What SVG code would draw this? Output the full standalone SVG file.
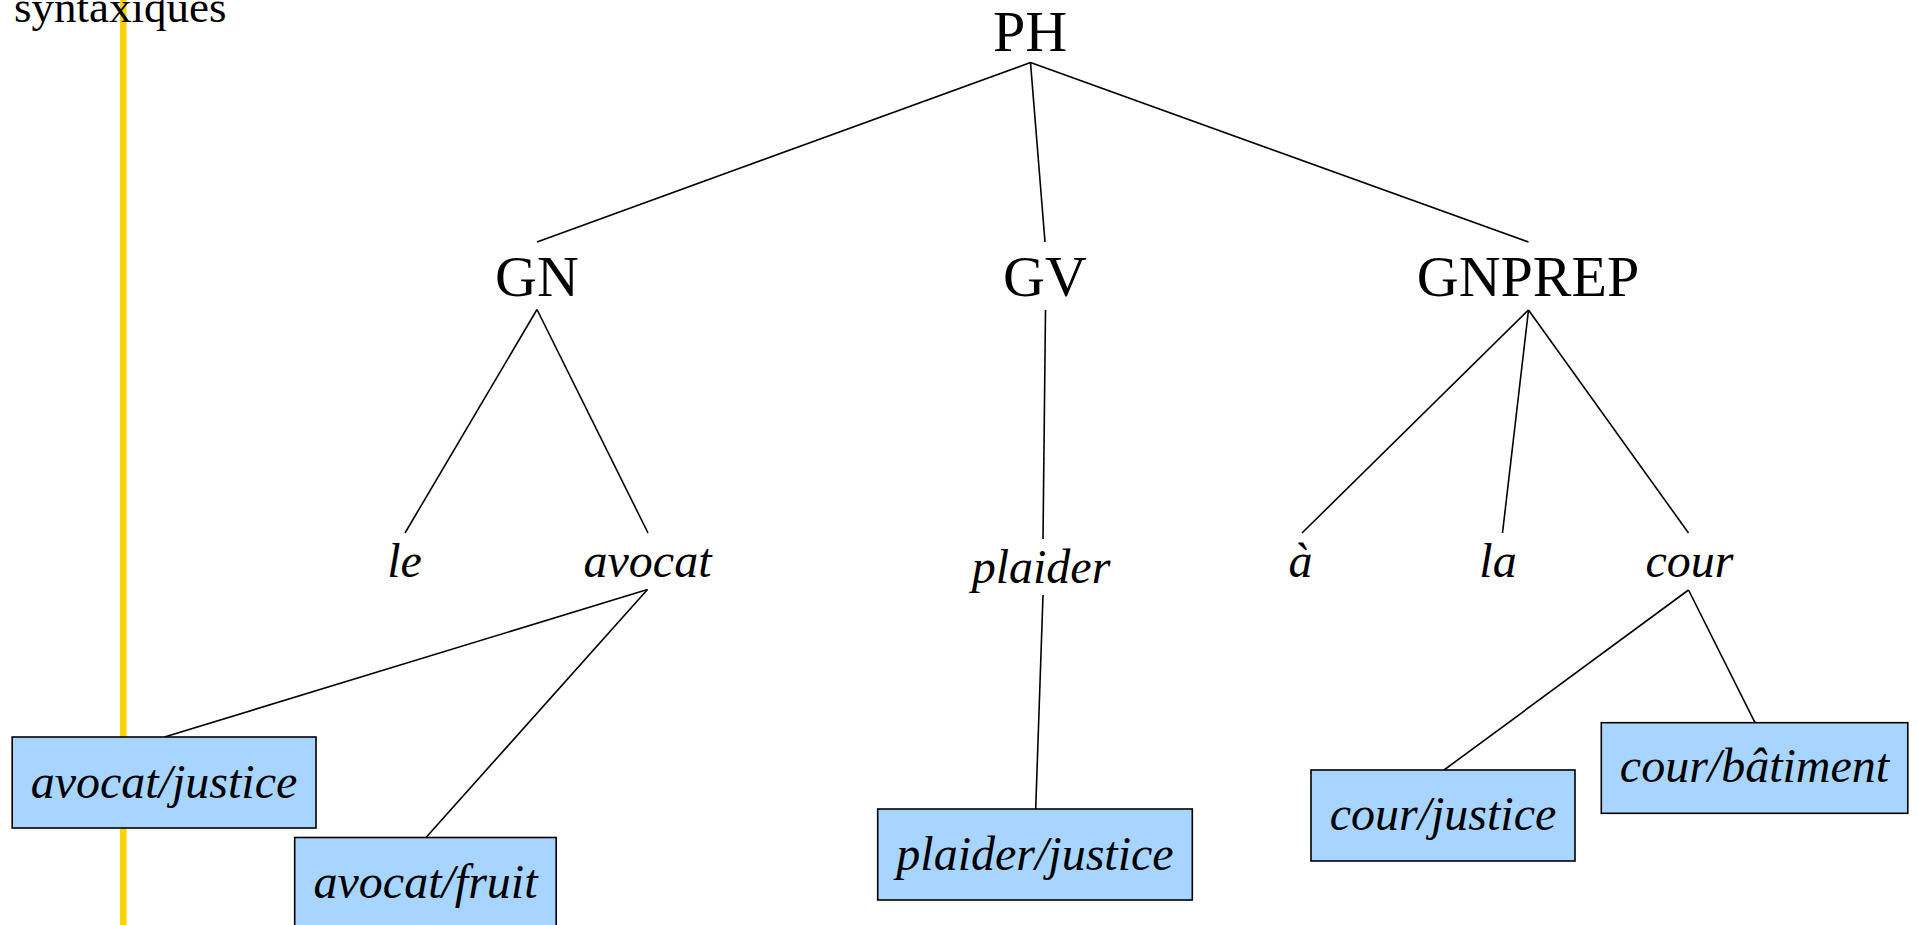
<svg xmlns="http://www.w3.org/2000/svg" width="1917" height="925" viewBox="0 0 1917 925">
  <style>
    .cat { font-family: "Liberation Serif", "Times New Roman", serif; font-size: 58px; fill: #000; text-anchor: middle; }
    .word { font-family: "Liberation Serif", "Times New Roman", serif; font-size: 48px; font-style: italic; fill: #000; text-anchor: middle; }
    .sense rect { fill: #a8d5ff; stroke: #000; stroke-width: 1.6; }
    .edges line { stroke: #000; stroke-width: 1.6; }
  </style>
  <rect width="1917" height="925" fill="#fff"/>

  <!-- vertical marker line -->
  <line x1="123.3" y1="0" x2="123.3" y2="925" stroke="#ffd200" stroke-width="6.5"/>
  <text x="14" y="22" font-family="Liberation Serif, serif" font-size="45" fill="#000">syntaxiques</text>

  <!-- connectors -->
  <g id="edges" class="edges">
    <line x1="1030.5" y1="62.5" x2="537" y2="242"/>
    <line x1="1030.5" y1="62.5" x2="1045" y2="242"/>
    <line x1="1030.5" y1="62.5" x2="1528.5" y2="242"/>
    <line x1="537" y1="309.5" x2="405" y2="533"/>
    <line x1="537" y1="309.5" x2="648" y2="533"/>
    <line x1="1045.5" y1="310" x2="1043" y2="539"/>
    <line x1="1528.5" y1="310" x2="1302" y2="533"/>
    <line x1="1528.5" y1="310" x2="1502.5" y2="533"/>
    <line x1="1528.5" y1="310" x2="1688.5" y2="533"/>
    <line x1="647.5" y1="589.5" x2="164.5" y2="737"/>
    <line x1="647.5" y1="589.5" x2="426" y2="837.5"/>
    <line x1="1043" y1="595" x2="1035.7" y2="809"/>
    <line x1="1688.5" y1="590" x2="1444" y2="770"/>
    <line x1="1688.5" y1="590" x2="1755" y2="722.7"/>
  </g>

  <!-- syntactic categories -->
  <g id="PH"><text class="cat" x="1030" y="51">PH</text></g>
  <g id="GN"><text class="cat" x="537" y="296">GN</text></g>
  <g id="GV"><text class="cat" x="1045" y="296">GV</text></g>
  <g id="GNPREP"><text class="cat" x="1528" y="296">GNPREP</text></g>

  <!-- words -->
  <g id="le"><text class="word" x="404.5" y="577">le</text></g>
  <g id="avocat"><text class="word" x="647.5" y="577">avocat</text></g>
  <g id="plaider"><text class="word" x="1041" y="583">plaider</text></g>
  <g id="a"><text class="word" x="1300.5" y="577">à</text></g>
  <g id="la"><text class="word" x="1498" y="577">la</text></g>
  <g id="cour"><text class="word" x="1689.5" y="577">cour</text></g>

  <!-- senses -->
  <g id="avocat-justice" class="sense">
    <rect x="12.2" y="737" width="303.8" height="91"/>
    <text class="word" x="164" y="798">avocat/justice</text>
  </g>
  <g id="avocat-fruit" class="sense">
    <rect x="294.7" y="837.5" width="261.5" height="100"/>
    <text class="word" x="425.5" y="898">avocat/fruit</text>
  </g>
  <g id="plaider-justice" class="sense">
    <rect x="877.7" y="809" width="314.6" height="91"/>
    <text class="word" x="1035" y="870">plaider/justice</text>
  </g>
  <g id="cour-justice" class="sense">
    <rect x="1311" y="770" width="264" height="91"/>
    <text class="word" x="1443" y="829.5">cour/justice</text>
  </g>
  <g id="cour-batiment" class="sense">
    <rect x="1601.3" y="722.7" width="306.5" height="90.6"/>
    <text class="word" x="1754.5" y="782">cour/bâtiment</text>
  </g>
</svg>
